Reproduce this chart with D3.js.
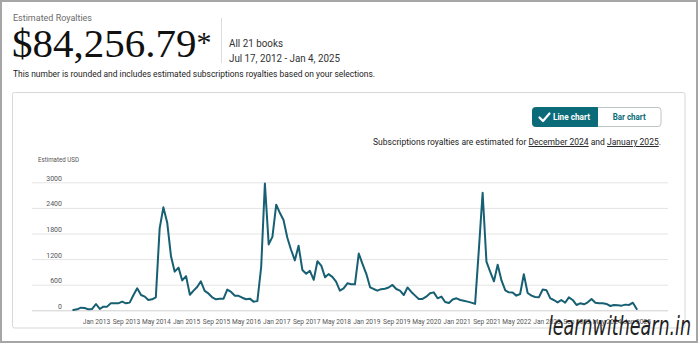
<!DOCTYPE html>
<html><head><meta charset="utf-8">
<script src="https://cdn.jsdelivr.net/npm/d3@7"></script>
<style>
html,body{margin:0;padding:0;background:#fff;}
svg{display:block;}
</style></head>
<body>
<svg id="c" width="700" height="344"></svg>
<script>
// ---------- DATA ----------
const startMonth = "2012-07";   // first month of the series (Jul 2012)
const monthlyUSD = [
  5, 23, 62, 55, 23, 31, 148, 31, 86, 86,
  164, 164, 164, 203, 164, 180, 359, 515, 359, 320,
  242, 258, 305, 1921, 2413, 2060, 1265, 906, 1000, 700,
  800, 365, 455, 545, 680, 455, 395, 305, 258, 270,
  273, 485, 430, 340, 340, 295, 258, 273, 203, 215,
  1015, 2970, 1545, 1720, 2475, 2273, 2117, 1700, 1420, 1170,
  1515, 945, 855, 925, 715, 1150, 1047, 773, 848, 785,
  672, 461, 515, 633, 609, 609, 1330, 1090, 855, 539,
  500, 461, 496, 505, 535, 594, 500, 461, 359, 535,
  430, 344, 266, 266, 320, 398, 420, 281, 320, 195,
  170, 255, 281, 242, 226, 203, 180, 150, 1400, 2755,
  1140, 906, 680, 1070, 700, 468, 422, 418, 344, 383,
  844, 405, 344, 312, 308, 488, 468, 281, 242, 186,
  242, 178, 304, 242, 125, 164, 140, 186, 265, 178,
  164, 164, 148, 101, 125, 117, 109, 133, 125, 178,
  30
];
const xTickLabels = ["Jan 2013","Sep 2013","May 2014","Jan 2015","Sep 2015","May 2016",
  "Jan 2017","Sep 2017","May 2018","Jan 2019","Sep 2019","May 2020","Jan 2021",
  "Sep 2021","May 2022","Jan 2023","Sep 2023","May 2024","Jan 2025"];
const yTickValues = [0, 600, 1200, 1800, 2400, 3000];

const headerLabel = "Estimated Royalties";
const totalAmount = "$84,256.79";
const booksText = "All 21 books";
const rangeText = "Jul 17, 2012 - Jan 4, 2025";
const noteText = "This number is rounded and includes estimated subscriptions royalties based on your selections.";

// ---------- SETUP ----------
const svg = d3.select("#c");
const SANS = "Roboto, 'Noto Sans', 'DejaVu Sans', sans-serif";
const parseM = d3.utcParse("%Y-%m");
const parseL = d3.utcParse("%b %Y");
const t0 = parseM(startMonth);
const series = monthlyUSD.map((v, i) => ({date: d3.utcMonth.offset(t0, i), value: v}));

function fit(sel, w) {
  sel.each(function(){
    const len = this.getComputedTextLength();
    if (len > 0 && Math.abs(len - w) > 0.5) {
      d3.select(this).attr("textLength", w).attr("lengthAdjust", "spacingAndGlyphs");
    }
  });
  return sel;
}

// outer frame
svg.append("rect").attr("x",1).attr("y",1).attr("width",696).attr("height",341)
  .attr("fill","#fff").attr("stroke","#a6a6a6").attr("stroke-width",2);

// ---------- HEADER ----------
fit(svg.append("text").attr("x",13).attr("y",21).attr("font-family",SANS)
  .attr("font-size",9.5).attr("fill","#6b6b6b").text(headerLabel), 79);

const big = svg.append("text").attr("x",12).attr("y",57)
  .attr("font-family","'Liberation Serif','DejaVu Serif',serif")
  .attr("font-size",41).attr("fill","#111");
big.append("tspan").text(totalAmount);
big.append("tspan").attr("font-size",30).attr("dy",-5).text("*");

svg.append("line").attr("x1",221.5).attr("x2",221.5).attr("y1",18).attr("y2",63)
  .attr("stroke","#dcdcdc");

fit(svg.append("text").attr("x",229).attr("y",46.5).attr("font-family",SANS)
  .attr("font-size",11).attr("fill","#333").text(booksText), 54);
fit(svg.append("text").attr("x",229).attr("y",61.5).attr("font-family",SANS)
  .attr("font-size",11).attr("fill","#333").text(rangeText), 111);
fit(svg.append("text").attr("x",13).attr("y",76.5).attr("font-family",SANS)
  .attr("font-size",9.5).attr("fill","#222").text(noteText), 362);

// ---------- PANEL ----------
svg.append("rect").attr("x",12.5).attr("y",92.5).attr("width",672.5).attr("height",235.5)
  .attr("rx",2).attr("fill","#fff").attr("stroke","#d5d9d9");

// toggle
const teal = "#0b6b78";
svg.append("rect").attr("x",532.5).attr("y",107.5).attr("width",128.5).attr("height",19)
  .attr("rx",3).attr("fill","#fff").attr("stroke","#bfc4c4");
svg.append("path").attr("d","M535.5,107.5 H597.5 V126.5 H535.5 Q532.5,126.5 532.5,123.5 V110.5 Q532.5,107.5 535.5,107.5 Z")
  .attr("fill",teal).attr("stroke",teal);
svg.append("path").attr("d","M539.5,117.5 L543,121 L549.5,113.5")
  .attr("fill","none").attr("stroke","#fff").attr("stroke-width",2.2)
  .attr("stroke-linecap","round").attr("stroke-linejoin","round");
fit(svg.append("text").attr("x",553).attr("y",120.3).attr("font-family",SANS)
  .attr("font-size",9).attr("font-weight",700).attr("fill","#fff").text("Line chart"), 37);
fit(svg.append("text").attr("x",612.7).attr("y",120.3).attr("font-family",SANS)
  .attr("font-size",9).attr("font-weight",700).attr("fill",teal).text("Bar chart"), 33);

// subtitle
const sub = svg.append("text").attr("x",373).attr("y",145).attr("font-family",SANS)
  .attr("font-size",9.5).attr("fill","#222");
sub.append("tspan").text("Subscriptions royalties are estimated for ");
sub.append("tspan").style("text-decoration","underline").text("December 2024");
sub.append("tspan").text(" and ");
sub.append("tspan").style("text-decoration","underline").text("January 2025");
sub.append("tspan").text(".");
fit(sub, 288);

// ---------- CHART ----------
const x = d3.scaleUtc().domain([t0, d3.utcMonth.offset(t0, monthlyUSD.length - 1)]).range([73.3, 636.7]);
const y = d3.scaleLinear().domain([0, 3000]).range([310.3, 182.3]);

fit(svg.append("text").attr("x",38).attr("y",161.5).attr("font-family",SANS)
  .attr("font-size",6.5).attr("fill","#555").text("Estimated USD"), 41);

// y grid + labels
const yAxis = d3.axisLeft(y).tickValues(yTickValues).tickSize(-(668 - 32)).tickFormat(d3.format("d"));
const gy = svg.append("g").attr("transform","translate(32,0)").call(yAxis);
gy.select(".domain").remove();
gy.selectAll(".tick line").attr("stroke", d => d === 0 ? "#cfcfcf" : "#e4e4e4");
gy.selectAll(".tick text").attr("x", 30).attr("dy", -2).attr("text-anchor","end")
  .attr("font-family",SANS).attr("font-size",7).attr("fill","#555")
  .attr("dominant-baseline","auto").attr("y",0);

// x labels
const xAxis = d3.axisBottom(x).tickValues(xTickLabels.map(s => parseL(s)))
  .tickSize(0).tickFormat(d3.utcFormat("%b %Y"));
const gx = svg.append("g").attr("transform","translate(0,310.3)").call(xAxis);
gx.select(".domain").remove();
gx.selectAll(".tick text").attr("y", 14).attr("dy", 0)
  .attr("font-family",SANS).attr("font-size",6.6).attr("fill","#555");

// line
svg.append("path").datum(series)
  .attr("fill","none").attr("stroke","#175f72").attr("stroke-width",2)
  .attr("stroke-linejoin","round").attr("stroke-linecap","round")
  .attr("d", d3.line().x(d => x(d.date)).y(d => y(d.value)));

// watermark (thin italic, drawn over the chart like in the reference)
fit(svg.append("text").attr("x",548).attr("y",335).attr("font-family","'DejaVu Sans', sans-serif")
  .attr("font-size",26).attr("font-style","italic").attr("font-weight",200)
  .attr("fill","#222").text("learnwithearn.in"), 143);
</script>
</body></html>
